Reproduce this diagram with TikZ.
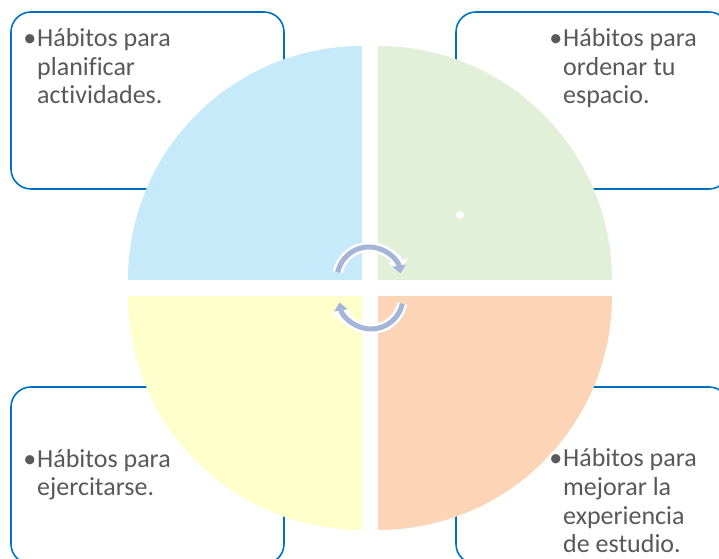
\documentclass[tikz,border=0pt]{standalone}
\usepackage{fontspec}
\setmainfont{Carlito}[Ligatures=NoCommon]
\usetikzlibrary{arrows.meta,calc}

\definecolor{boxblue}{RGB}{0,112,192}
\definecolor{textgray}{RGB}{89,89,89}
\definecolor{qblue}{RGB}{199,234,251}
\definecolor{qgreen}{RGB}{226,240,217}
\definecolor{qyellow}{RGB}{255,255,204}
\definecolor{qorange}{RGB}{251,213,181}
\definecolor{arrowblue}{RGB}{165,181,215}

\tikzset{
  habitbox/.style={draw=boxblue, line width=1.6bp, rounded corners=20bp, fill=white},
  habittext/.style={anchor=base west, inner sep=0pt, align=left, text=textgray,
    font=\fontsize{26bp}{28.7bp}\selectfont},
  cyclearrow/.style={line width=5bp, draw=arrowblue, -{Triangle[width=13bp,length=8bp]}},
  cycleedge/.style={line width=10bp, draw=white, -{Triangle[width=20bp,length=12bp]}}
}

\begin{document}
\begin{tikzpicture}[x=1bp,y=1bp]
\useasboundingbox (0,0) rectangle (719,559);
\clip (0,0) rectangle (719,559);

% text boxes behind the circle
\draw[habitbox] (11,370) rectangle (284,547);
\draw[habitbox] (456,370) rectangle (729,547);
\draw[habitbox] (11,-5) rectangle (284,172);
\draw[habitbox] (456,-5) rectangle (729,172);

% the four quarters
\fill[qblue] (362,279) -- (128,279) arc (180:90:234) -- cycle;
\fill[qgreen] (378,279) -- (378,513) arc (90:0:234) -- cycle;
\fill[qyellow] (362,263) -- (362,29) arc (270:180:234) -- cycle;
\fill[qorange] (378,263) -- (612,263) arc (0:-90:234) -- cycle;
\fill[white] (460,344) circle (4);

% cycle arrows
\coordinate (topc) at (369,280);
\coordinate (botc) at (371,262);
\draw[cycleedge] ($(topc)+(168:32)$) arc (168:12:32);
\draw[cyclearrow] ($(topc)+(168:32)$) arc (168:10:32);
\draw[cycleedge] ($(botc)+(-12:32)$) arc (-12:-168:32);
\draw[cyclearrow] ($(botc)+(-12:32)$) arc (-12:-170:32);

% texts (anchored on the last line)
\node[habittext] (plan) at (37,455) {\llap{•\hspace{1bp}}Hábitos para\\planificar\\actividades.};
\node[habittext] (orden) at (563,455) {\llap{•\hspace{1bp}}Hábitos para\\ordenar tu\\espacio.};
\node[habittext] (ejer) at (37,63) {\llap{•\hspace{1bp}}Hábitos para\\ejercitarse.};
\node[habittext] (estudio) at (563,6) {\llap{•\hspace{1bp}}Hábitos para\\mejorar la\\experiencia\\de estudio.};
\end{tikzpicture}
\end{document}
